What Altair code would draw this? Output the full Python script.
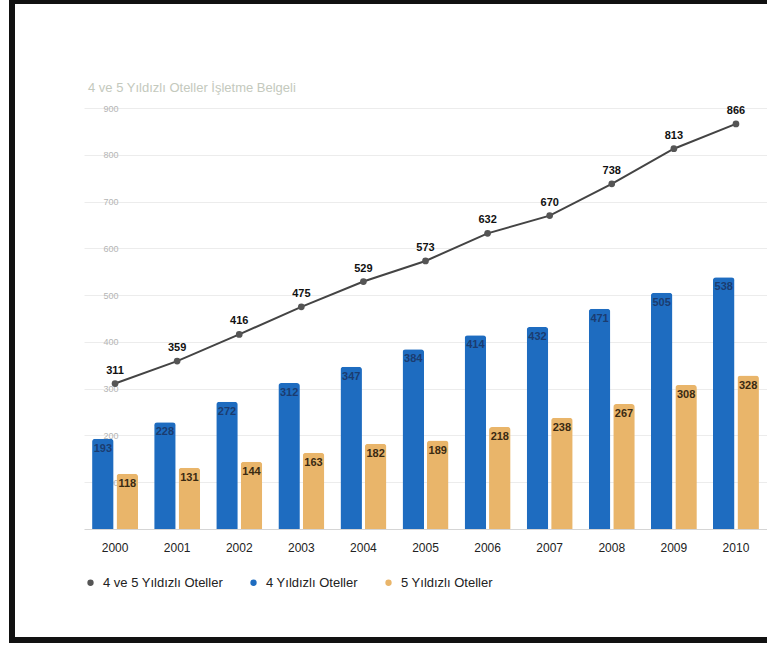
import altair as alt
import pandas as pd

years = ["2000", "2001", "2002", "2003", "2004", "2005", "2006", "2007", "2008", "2009", "2010"]
total = [311, 359, 416, 475, 529, 573, 632, 670, 738, 813, 866]
four = [193, 228, 272, 312, 347, 384, 414, 432, 471, 505, 538]
five = [118, 131, 144, 163, 182, 189, 218, 238, 267, 308, 328]

TITLE = "4 ve 5 Yıldızlı Oteller İşletme Belgeli"
S_TOTAL = "4 ve 5 Yıldızlı Oteller"
S_FOUR = "4 Yıldızlı Oteller"
S_FIVE = "5 Yıldızlı Oteller"
series_names = [S_TOTAL, S_FOUR, S_FIVE]
series_colors = ["#555555", "#1e6cc0", "#e9b56a"]

bars = pd.DataFrame(
    [{"year": y, "series": S_FOUR, "value": v} for y, v in zip(years, four)]
    + [{"year": y, "series": S_FIVE, "value": v} for y, v in zip(years, five)]
)
line = pd.DataFrame({"year": years, "series": S_TOTAL, "value": total})

FONT = "Liberation Sans"

color_scale = alt.Scale(domain=series_names, range=series_colors)
x_enc = alt.X(
    "year:N",
    sort=years,
    scale=alt.Scale(paddingInner=0.26, paddingOuter=0.13),
    axis=alt.Axis(
        title=None, labelAngle=0, ticks=False, tickSize=0, labelPadding=13,
        labelFontSize=12, labelColor="#222222", labelFont=FONT,
        domain=True, domainColor="#d5d5d5", grid=False,
    ),
)
y_enc = alt.Y(
    "value:Q",
    scale=alt.Scale(domain=[0, 900]),
    axis=alt.Axis(
        title=None, values=list(range(100, 1000, 100)), ticks=False, tickSize=0,
        domain=False, labelAlign="right", labelPadding=-34,
        labelFontSize=9, labelColor="#b5b5b5", labelFont=FONT, gridColor="#ececec",
    ),
)

bar_layer = alt.Chart(bars).mark_bar(cornerRadiusTopLeft=3, cornerRadiusTopRight=3).encode(
    x=x_enc,
    y=y_enc,
    xOffset=alt.XOffset("series:N", sort=[S_FOUR, S_FIVE], scale=alt.Scale(paddingInner=0.12)),
    color=alt.Color(
        "series:N",
        scale=color_scale,
        sort=series_names,
        legend=alt.Legend(
            title=None, orient="none", direction="horizontal", legendX=0, legendY=468,
            symbolType="circle", symbolSize=40, labelFontSize=13, labelFont=FONT,
            labelColor="#222222", columnPadding=24, labelOffset=6,
        ),
    ),
)

bar_text = alt.Chart(bars).mark_text(
    baseline="top", dy=4, fontSize=11, fontWeight="bold", font=FONT
).encode(
    x=alt.X("year:N", sort=years),
    xOffset=alt.XOffset("series:N", sort=[S_FOUR, S_FIVE]),
    y=alt.Y("value:Q"),
    text="value:Q",
    color=alt.Color("series:N", scale=alt.Scale(domain=[S_FOUR, S_FIVE], range=["#1b3c70", "#3a2a12"]), legend=None),
)

line_layer = alt.Chart(line).mark_line(color="#444444", strokeWidth=2).encode(
    x=alt.X("year:N", sort=years),
    y=alt.Y("value:Q"),
)
point_layer = alt.Chart(line).mark_point(filled=True, size=45, opacity=1, shape="circle").encode(
    x=alt.X("year:N", sort=years),
    y=alt.Y("value:Q"),
    color=alt.Color("series:N", scale=color_scale, sort=series_names, legend=None),
)
line_text = alt.Chart(line).mark_text(
    dy=-13, fontSize=11, fontWeight="bold", font=FONT, color="#111111"
).encode(
    x=alt.X("year:N", sort=years),
    y=alt.Y("value:Q"),
    text="value:Q",
)

deco_df = pd.DataFrame({"k": [0]})
title_text = alt.Chart(deco_df).mark_text(
    text=TITLE, align="left", baseline="middle", fontSize=13, font=FONT, color="#c4c9bd"
).encode(x=alt.value(4), y=alt.value(-20))

frame_left = alt.Chart(deco_df).mark_rule(color="#111111", strokeWidth=6).encode(
    x=alt.value(-72), y=alt.value(-108), y2=alt.value(535)
)
frame_top = alt.Chart(deco_df).mark_rule(color="#111111", strokeWidth=4).encode(
    x=alt.value(-75), x2=alt.value(683), y=alt.value(-106)
)
frame_bottom = alt.Chart(deco_df).mark_rule(color="#111111", strokeWidth=6).encode(
    x=alt.value(-75), x2=alt.value(683), y=alt.value(532)
)

chart = alt.layer(
    bar_layer, bar_text, line_layer, point_layer, line_text, title_text,
    frame_left, frame_top, frame_bottom,
).resolve_scale(color="independent").properties(
    width=683,
    height=421,
    padding={"left": 84, "top": 108, "right": 0, "bottom": 117},
    autosize=alt.AutoSizeParams(type="none"),
    view=alt.ViewBackground(stroke="transparent", strokeWidth=0),
).configure_view(stroke="transparent", strokeWidth=0).configure_axis(
    domain=False
).configure_axisX(grid=False, domain=True).configure(background="white")

chart.save("out.html", embed_options={"renderer": "svg", "actions": False})
